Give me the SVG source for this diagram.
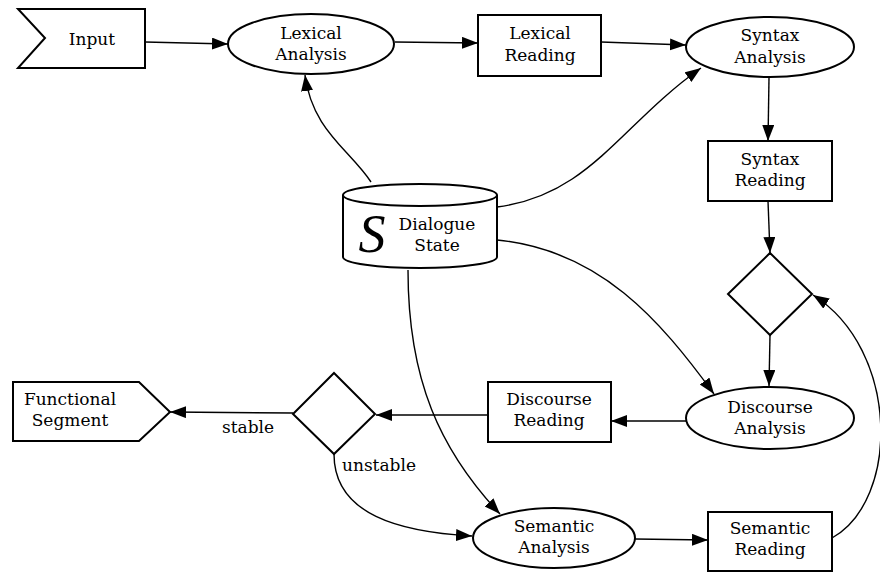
<svg xmlns="http://www.w3.org/2000/svg" width="880" height="572" viewBox="0 0 880 572">
<defs>
<marker id="ah" markerUnits="userSpaceOnUse" markerWidth="18" markerHeight="14" refX="16" refY="6" orient="auto">
<path d="M0,0 L16,6 L0,12 z" fill="#000"/>
</marker>
<style>
.n{fill:#fff;stroke:#000;stroke-width:2}
.t{font-family:"DejaVu Serif","Liberation Serif",serif;font-size:17px;fill:#000;text-anchor:middle}
.c{fill:none;stroke:#000;stroke-width:1.4;marker-end:url(#ah)}
.l{font-family:"DejaVu Serif","Liberation Serif",serif;font-size:17px;fill:#000}
</style>
</defs>
<rect width="880" height="572" fill="#fff"/>
<g id="connectors">
<path class="c" d="M145,42 L228,44"/>
<path class="c" d="M395,42 L478,43"/>
<path class="c" d="M601,42 L686,45"/>
<path class="c" d="M769,78 L768,141"/>
<path class="c" d="M768,201 L770,253"/>
<path class="c" d="M770,335 L769,386"/>
<path class="c" d="M686,421 L611,421"/>
<path class="c" d="M488,415 L376,415"/>
<path class="c" d="M293,413 L170,412"/>
<path class="c" d="M334,454 C334,515 400,532 472,536"/>
<path class="c" d="M635,539 L708,540"/>
<path class="c" d="M832,538 C900,500 900,350 813,295"/>
<path class="c" d="M371,182 C350,150 312,130 305,75"/>
<path class="c" d="M497,207 C590,195 620,125 701,68"/>
<path class="c" d="M497,240 C600,250 660,320 714,394"/>
<path class="c" d="M408,270 C408,380 440,450 500,514"/>
<text class="l" x="222" y="433">stable</text>
<text class="l" x="342" y="471">unstable</text>
</g>
<g id="input">
<polygon class="n" points="18,9 145,9 145,68 18,68 45,38"/>
<text class="t" x="92" y="45">Input</text>
</g>
<g id="lexical-analysis">
<ellipse class="n" cx="311" cy="44" rx="83" ry="30"/>
<text class="t" x="311" y="39">Lexical</text>
<text class="t" x="311" y="60">Analysis</text>
</g>
<g id="lexical-reading">
<rect class="n" x="478" y="15" width="123" height="61"/>
<text class="t" x="540" y="39">Lexical</text>
<text class="t" x="540" y="61">Reading</text>
</g>
<g id="syntax-analysis">
<ellipse class="n" cx="770" cy="47" rx="84" ry="30"/>
<text class="t" x="770" y="41">Syntax</text>
<text class="t" x="770" y="63">Analysis</text>
</g>
<g id="syntax-reading">
<rect class="n" x="708" y="141" width="124" height="60"/>
<text class="t" x="770" y="165">Syntax</text>
<text class="t" x="770" y="186">Reading</text>
</g>
<g id="decision-1">
<polygon class="n" points="770,253 812,294 770,335 728,294"/>
</g>
<g id="dialogue-state">
<path class="n" d="M343,195 L343,257 A77,11 0 0 0 497,257 L497,195"/>
<ellipse class="n" cx="420" cy="195" rx="77" ry="11"/>
<text x="372" y="252" style="font-family:'Liberation Serif',serif;font-style:italic;font-size:54px;text-anchor:middle;fill:#000">S</text>
<text class="t" x="437" y="230">Dialogue</text>
<text class="t" x="437" y="251">State</text>
</g>
<g id="discourse-analysis">
<ellipse class="n" cx="770" cy="418" rx="84" ry="31"/>
<text class="t" x="770" y="413">Discourse</text>
<text class="t" x="770" y="434">Analysis</text>
</g>
<g id="discourse-reading">
<rect class="n" x="488" y="382" width="123" height="60"/>
<text class="t" x="549" y="405">Discourse</text>
<text class="t" x="549" y="426">Reading</text>
</g>
<g id="decision-2">
<polygon class="n" points="334,373 375,414 334,454 293,414"/>
</g>
<g id="functional-segment">
<polygon class="n" points="13,382 139,382 170,412 139,441 13,441"/>
<text class="t" x="70" y="405">Functional</text>
<text class="t" x="70" y="426">Segment</text>
</g>
<g id="semantic-analysis">
<ellipse class="n" cx="554" cy="538" rx="81" ry="30"/>
<text class="t" x="554" y="532">Semantic</text>
<text class="t" x="554" y="553">Analysis</text>
</g>
<g id="semantic-reading">
<rect class="n" x="708" y="512" width="124" height="59"/>
<text class="t" x="770" y="534">Semantic</text>
<text class="t" x="770" y="555">Reading</text>
</g>
</svg>
